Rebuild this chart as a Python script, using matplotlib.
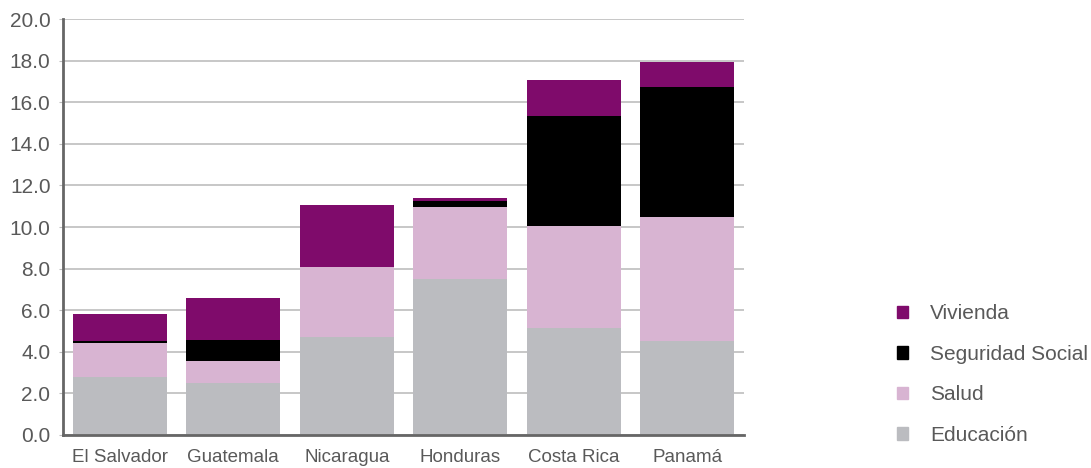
import numpy as np
import matplotlib
matplotlib.use("Agg")
import matplotlib.pyplot as plt
from matplotlib.patches import Patch

plt.rcParams["font.family"] = ["Liberation Sans", "DejaVu Sans"]

paises = ["El Salvador", "Guatemala", "Nicaragua", "Honduras", "Costa Rica", "Panamá"]
educacion = [2.8, 2.5, 4.7, 7.5, 5.15, 4.5]
salud = [1.6, 1.05, 3.4, 3.45, 4.9, 6.0]
seguridad = [0.1, 1.0, 0.0, 0.3, 5.3, 6.25]
vivienda = [1.3, 2.05, 2.95, 0.15, 1.72, 1.2]

series = [("Educación", educacion, "#bbbcc0"),
          ("Salud", salud, "#d8b4d2"),
          ("Seguridad Social", seguridad, "#000000"),
          ("Vivienda", vivienda, "#7f0b6b")]

TXT = "#595959"

fig = plt.figure(figsize=(10.91, 4.68), dpi=100)
ax = fig.add_axes([63 / 1091, 1 - 435 / 468, 681 / 1091, 416 / 468])

x = np.arange(len(paises))
bottom = np.zeros(len(paises))
for name, vals, col in series:
    ax.bar(x, vals, width=0.83, bottom=bottom, color=col, zorder=3, label=name)
    bottom += np.array(vals)

ax.set_xlim(-0.5, len(paises) - 0.5)
ax.set_ylim(0, 20)
ax.set_yticks(np.arange(0, 21, 2))
ax.set_yticklabels([f"{v:.1f}" for v in np.arange(0, 21, 2)])
ax.set_xticks(x)
ax.set_xticklabels(paises)
ax.grid(axis="y", color="#bdbdbd", lw=1.2, zorder=0)
ax.tick_params(axis="y", length=3, color="#bdbdbd", labelsize=15, labelcolor=TXT, pad=6)
ax.tick_params(axis="x", length=0, labelsize=13.5, labelcolor=TXT, pad=10)
for s in ["top", "right"]:
    ax.spines[s].set_visible(False)
for s in ["left", "bottom"]:
    ax.spines[s].set_color("#666666")
    ax.spines[s].set_linewidth(2)
    ax.spines[s].set_zorder(4)

handles = [Patch(color=col, label=name) for name, _, col in reversed(series)]
fig.legend(handles=handles, loc="center left", bbox_to_anchor=(897 / 1091, 1 - 374.5 / 468),
           frameon=False, fontsize=15, labelcolor=TXT, handlelength=0.55, handleheight=0.55,
           handletextpad=1.05, labelspacing=1.03, borderaxespad=0, borderpad=0)

fig.savefig("out.png", dpi=100)
